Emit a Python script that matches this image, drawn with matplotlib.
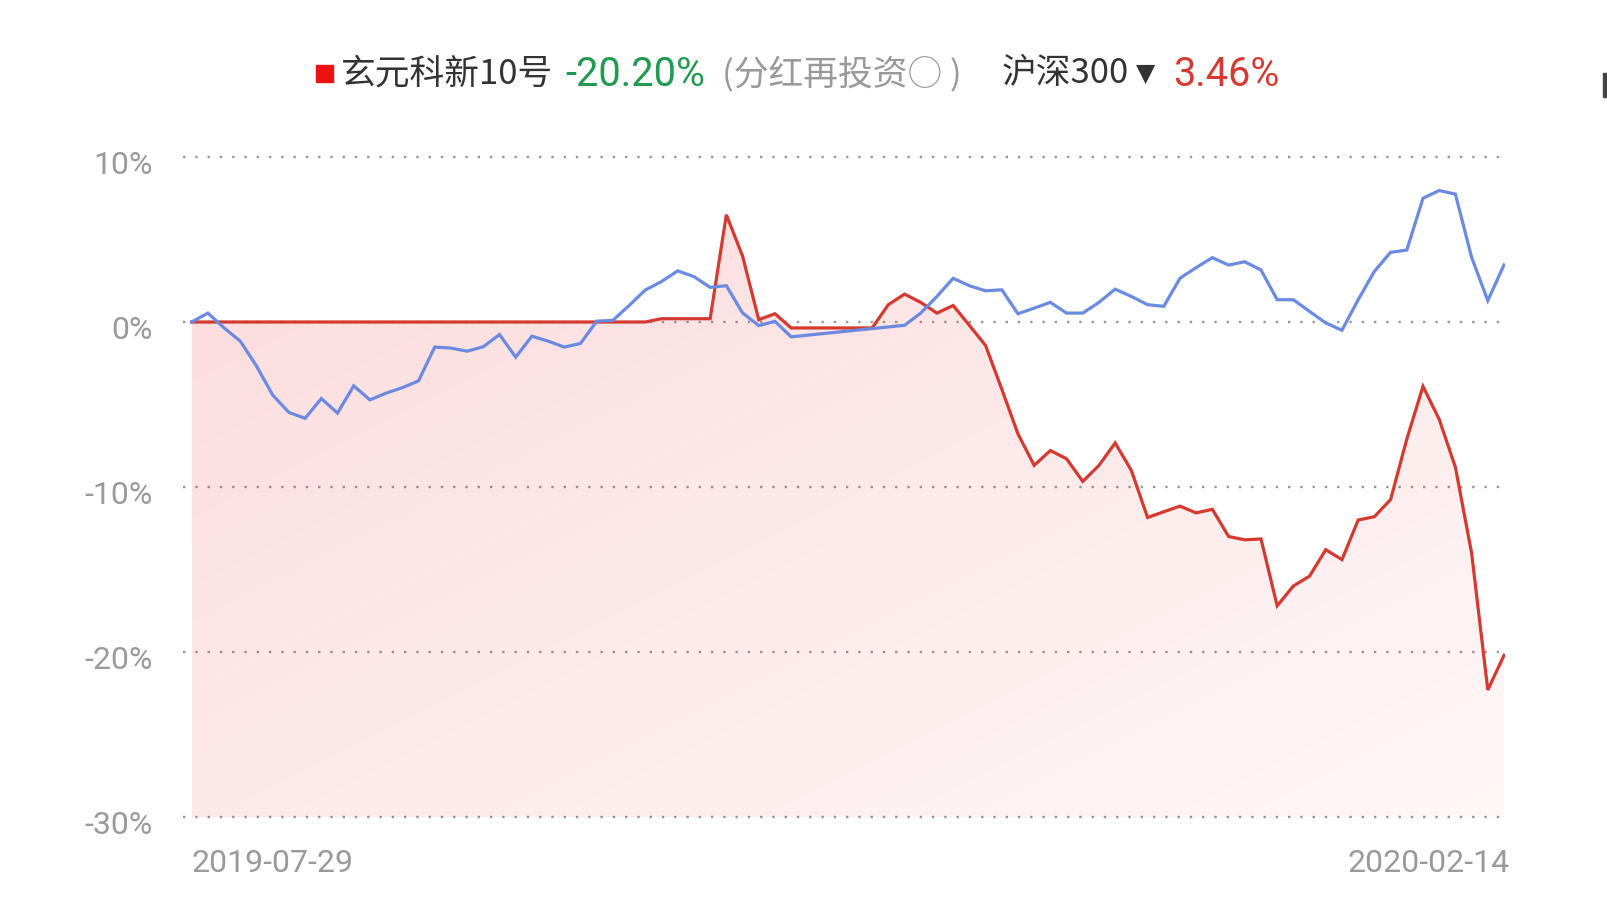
import numpy as np
import matplotlib
matplotlib.use("Agg")
import matplotlib.pyplot as plt
from matplotlib.patches import Rectangle
from matplotlib.transforms import ScaledTranslation

# ---------------- data ----------------
fund_name = "玄元科新10号"
fund_return_label = "-20.20%"
reinvest_label = "(分红再投资○ )"
bench_name = "沪深300"
bench_return_label = "3.46%"
start_label = "2019-07-29"
end_label = "2020-02-14"
y_ticks = [10, 0, -10, -20, -30]
y_tick_labels = ["10%", "0%", "-10%", "-20%", "-30%"]

# cumulative return of the fund (%), one value per period
fund = [0, 0, 0, 0, 0, 0, 0, 0, 0, 0,
        0, 0, 0, 0, 0, 0, 0, 0, 0, 0,
        0, 0, 0, 0, 0, 0, 0, 0, 0, 0.2,
        0.2, 0.2, 0.2, 6.5, 4.0, 0.14, 0.5, -0.36, -0.36, -0.36,
        -0.36, -0.36, -0.36, 1.05, 1.69, 1.19, 0.54, 1.0, -0.2, -1.42,
        -4.07, -6.78, -8.69, -7.79, -8.29, -9.66, -8.69, -7.33, -9.0, -11.85,
        -11.5, -11.16, -11.57, -11.35, -13.0, -13.2, -13.15, -17.2, -16.0, -15.4,
        -13.8, -14.4, -12.0, -11.8, -10.76, -7.1, -3.9, -5.9, -8.8, -14.0,
        -22.3, -20.2]

# cumulative return of the benchmark (%), NaN = no quote (holiday)
nan = float("nan")
bench = [0.0, 0.54, -0.36, -1.16, -2.67, -4.43, -5.48, -5.84, -4.64, -5.52,
         -3.87, -4.72, -4.31, -3.98, -3.57, -1.52, -1.58, -1.77, -1.5, -0.76,
         -2.13, -0.86, -1.16, -1.52, -1.3, 0.05, 0.1, 1.0, 1.94, 2.45,
         3.1, 2.75, 2.1, 2.2, 0.55, -0.22, 0.04, -0.9, nan, nan,
         nan, nan, nan, nan, -0.2, 0.54, 1.55, 2.65, 2.2, 1.89,
         1.95, 0.5, 0.84, 1.19, 0.54, 0.54, 1.19, 1.99, 1.55, 1.05,
         0.95, 2.65, 3.3, 3.9, 3.45, 3.65, 3.15, 1.35, 1.35, 0.64,
         -0.06, -0.5, 1.35, 3.07, 4.22, 4.36, 7.5, 7.97, 7.75, 3.92,
         1.3, 3.46]

# ---------------- style ----------------
RED = "#d6392f"
BLUE = "#6b8ae2"
GRID = "#979797"
TICK = "#9a9a9a"
DARK = "#333333"
GREEN = "#1f9a4e"
FILL_RGB = (240 / 255, 60 / 255, 60 / 255)

W, H = 1608, 912
fig = plt.figure(figsize=(W / 100, H / 100), dpi=100)
fig.patch.set_facecolor("white")

# axes placement in pixels
ax_left, ax_right = 183, 1505
ax_top, ax_bottom = 158, 818
ax = fig.add_axes([ax_left / W, 1 - ax_bottom / H,
                   (ax_right - ax_left) / W, (ax_bottom - ax_top) / H])
ax.set_facecolor("none")

x = np.arange(len(fund))
fund_a = np.array(fund, dtype=float)
bench_a = np.array(bench, dtype=float)

step_px = (1504 - 191.7) / (len(fund) - 1)
xmin = -(191.7 - ax_left) / step_px
xmax = (len(fund) - 1) + (ax_right - 1504) / step_px
ymin, ymax = -30, 10

# dotted grid lines
for v in y_ticks:
    ax.axhline(v, color=GRID, lw=1.7, linestyle=(0, (1, 4.2)),
               zorder=0.5, clip_on=False)

# gradient fill below the fund line
poly = ax.fill_between(x, fund_a, ymin, facecolor="none", edgecolor="none")
nx, ny = 400, 200
gx = np.linspace(0, 1, nx)[None, :]
gy = np.linspace(0, 1, ny)[:, None]
alpha = 0.19 - 0.075 * gy - 0.075 * gx
grad = np.zeros((ny, nx, 4))
grad[..., 0], grad[..., 1], grad[..., 2] = FILL_RGB
grad[..., 3] = np.clip(alpha, 0, 1)
im = ax.imshow(grad, extent=[0, len(fund) - 1, ymin, ymax], origin="upper",
               aspect="auto", zorder=1, interpolation="bilinear")
im.set_clip_path(poly.get_paths()[0], transform=ax.transData)

# lines
ax.plot(x, fund_a, color=RED, lw=2.3, zorder=3, solid_joinstyle="miter")
mask = ~np.isnan(bench_a)
ax.plot(x[mask], bench_a[mask], color=BLUE, lw=2.3, zorder=4,
        solid_joinstyle="miter")

ax.set_xlim(xmin, xmax)
ax.set_ylim(ymin, ymax)
for s in ax.spines.values():
    s.set_visible(False)

FONT = ["Roboto", "Noto Sans CJK SC", "DejaVu Sans"]
ax.set_yticks(y_ticks)
ax.set_yticklabels(y_tick_labels, fontsize=23, color=TICK, family=FONT)
ax.set_xticks([0, len(fund) - 1])
ax.set_xticklabels([start_label, end_label], fontsize=23, color=TICK,
                   family=FONT)
ax.tick_params(axis="y", length=0, pad=22)
ax.tick_params(axis="x", length=0, pad=22)
down = ScaledTranslation(0, -5 / 100, fig.dpi_scale_trans)
for lbl in ax.get_yticklabels():
    lbl.set_transform(lbl.get_transform() + down)
xl = ax.get_xticklabels()
xl[0].set_ha("left")
xl[1].set_ha("right")
xl[1].set_transform(xl[1].get_transform()
                    + ScaledTranslation(6 / 100, 0, fig.dpi_scale_trans))

# ---------------- legend header ----------------
def fx(px):
    return px / W

def fy(py):
    return 1 - py / H

yc = 74
fig.patches.append(Rectangle((fx(316), fy(83)), 17 / W, 17 / H,
                             transform=fig.transFigure, color="#ee1111"))
fig.text(fx(341), fy(yc), fund_name, fontsize=25, color=DARK,
         family=["Noto Sans CJK SC", "DejaVu Sans"], va="center", ha="left")
fig.text(fx(565), fy(yc), fund_return_label, fontsize=28.5, color=GREEN,
         family=FONT, va="center", ha="left")
fig.text(fx(722), fy(yc), reinvest_label, fontsize=25, color="#9a9a9a",
         family=["Noto Sans CJK SC", "DejaVu Sans"], va="center", ha="left")
fig.text(fx(1002), fy(yc), bench_name, fontsize=25, color=DARK,
         family=["Noto Sans CJK SC", "DejaVu Sans"], va="center", ha="left")
fig.text(fx(1136), fy(yc), "▼", fontsize=18, color=DARK,
         family=["DejaVu Sans"], va="center", ha="left")
fig.text(fx(1173), fy(yc), bench_return_label, fontsize=28.5, color=RED,
         family=FONT, va="center", ha="left")

# small cut-off mark at the right edge of the header
fig.patches.append(Rectangle((fx(1603), fy(98)), 5 / W, 24 / H,
                             transform=fig.transFigure, color="#444444"))

fig.savefig("out.png", dpi=100, facecolor="white")
